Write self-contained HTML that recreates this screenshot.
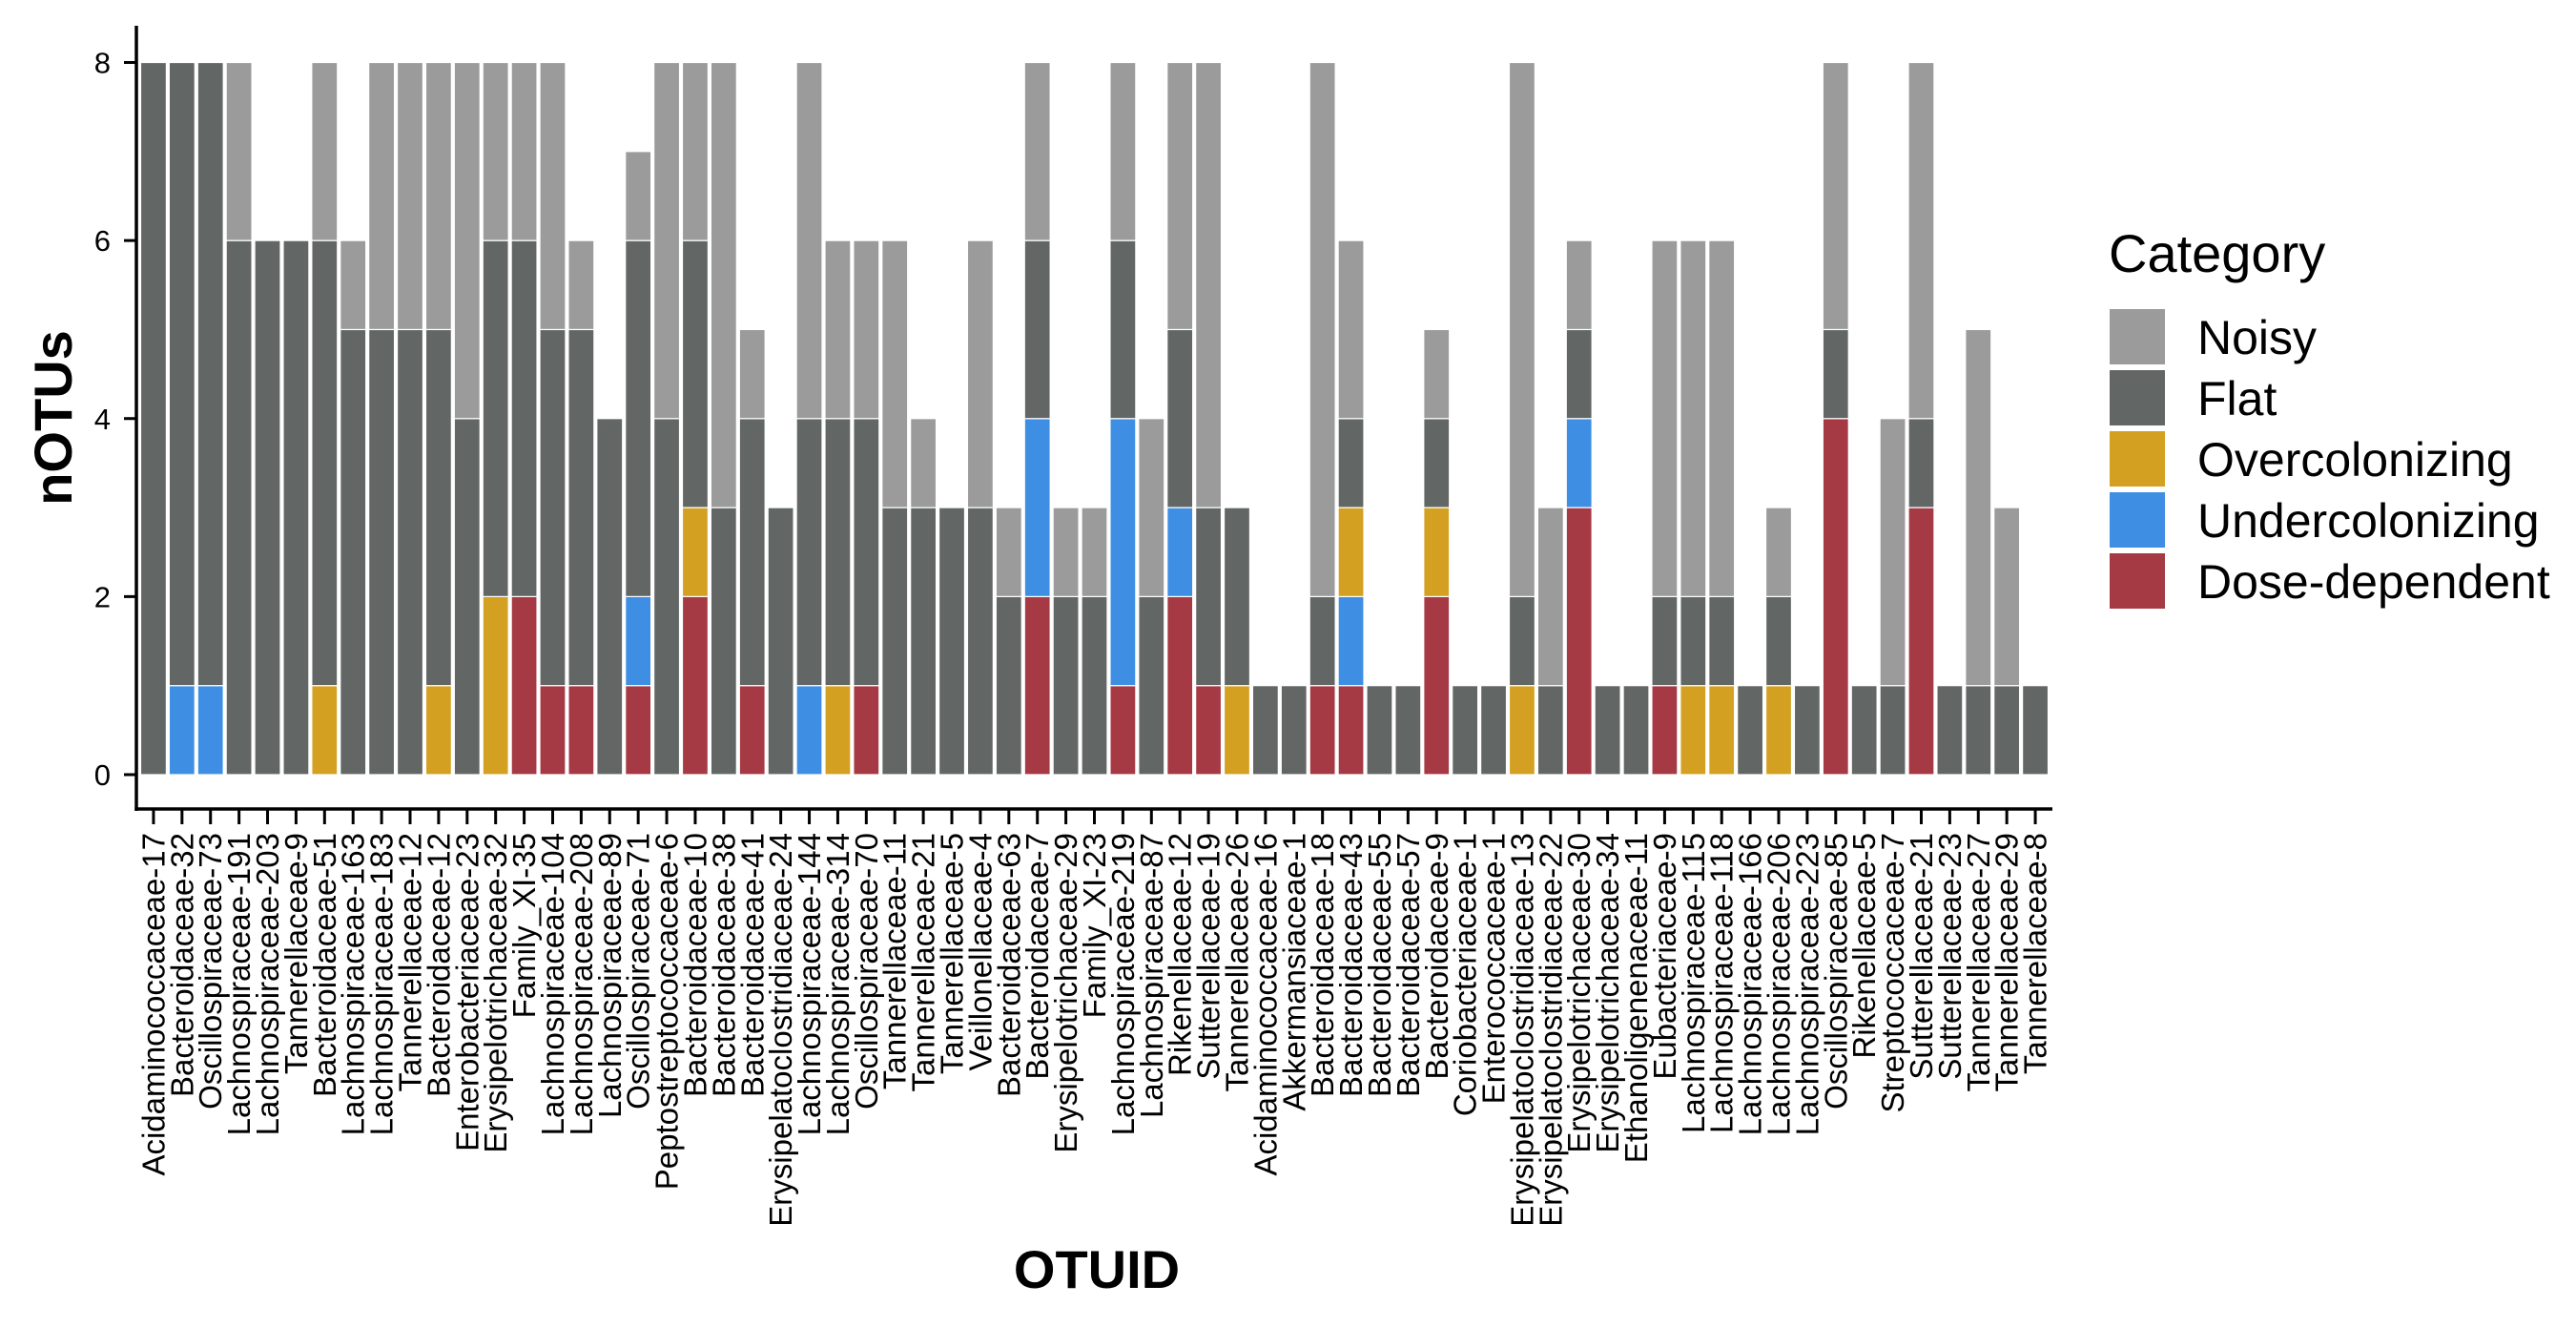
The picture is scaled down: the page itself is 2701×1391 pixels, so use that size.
<!DOCTYPE html>
<html><head><meta charset="utf-8"><style>
html,body{margin:0;padding:0;background:#fff;}
svg{display:block;font-family:"Liberation Sans",Arial,sans-serif;}
</style></head><body>
<svg id="chart" width="2701" height="1391" viewBox="0 0 2701 1391" xmlns="http://www.w3.org/2000/svg">
<g id="bars"></g>
<g id="axes"></g>
<g id="legend"></g>
</svg>
<script>
const categories = ["Acidaminococcaceae-17","Bacteroidaceae-32","Oscillospiraceae-73","Lachnospiraceae-191","Lachnospiraceae-203","Tannerellaceae-9","Bacteroidaceae-51","Lachnospiraceae-163","Lachnospiraceae-183","Tannerellaceae-12","Bacteroidaceae-12","Enterobacteriaceae-23","Erysipelotrichaceae-32","Family_XI-35","Lachnospiraceae-104","Lachnospiraceae-208","Lachnospiraceae-89","Oscillospiraceae-71","Peptostreptococcaceae-6","Bacteroidaceae-10","Bacteroidaceae-38","Bacteroidaceae-41","Erysipelatoclostridiaceae-24","Lachnospiraceae-144","Lachnospiraceae-314","Oscillospiraceae-70","Tannerellaceae-11","Tannerellaceae-21","Tannerellaceae-5","Veillonellaceae-4","Bacteroidaceae-63","Bacteroidaceae-7","Erysipelotrichaceae-29","Family_XI-23","Lachnospiraceae-219","Lachnospiraceae-87","Rikenellaceae-12","Sutterellaceae-19","Tannerellaceae-26","Acidaminococcaceae-16","Akkermansiaceae-1","Bacteroidaceae-18","Bacteroidaceae-43","Bacteroidaceae-55","Bacteroidaceae-57","Bacteroidaceae-9","Coriobacteriaceae-1","Enterococcaceae-1","Erysipelatoclostridiaceae-13","Erysipelatoclostridiaceae-22","Erysipelotrichaceae-30","Erysipelotrichaceae-34","Ethanoligenenaceae-11","Eubacteriaceae-9","Lachnospiraceae-115","Lachnospiraceae-118","Lachnospiraceae-166","Lachnospiraceae-206","Lachnospiraceae-223","Oscillospiraceae-85","Rikenellaceae-5","Streptococcaceae-7","Sutterellaceae-21","Sutterellaceae-23","Tannerellaceae-27","Tannerellaceae-29","Tannerellaceae-8"];
const doseDependent = [0,0,0,0,0,0,0,0,0,0,0,0,0,2,1,1,0,1,0,2,0,1,0,0,0,1,0,0,0,0,0,2,0,0,1,0,2,1,0,0,0,1,1,0,0,2,0,0,0,0,3,0,0,1,0,0,0,0,0,4,0,0,3,0,0,0,0];
const undercolonizing = [0,1,1,0,0,0,0,0,0,0,0,0,0,0,0,0,0,1,0,0,0,0,0,1,0,0,0,0,0,0,0,2,0,0,3,0,1,0,0,0,0,0,1,0,0,0,0,0,0,0,1,0,0,0,0,0,0,0,0,0,0,0,0,0,0,0,0];
const overcolonizing = [0,0,0,0,0,0,1,0,0,0,1,0,2,0,0,0,0,0,0,1,0,0,0,0,1,0,0,0,0,0,0,0,0,0,0,0,0,0,1,0,0,0,1,0,0,1,0,0,1,0,0,0,0,0,1,1,0,1,0,0,0,0,0,0,0,0,0];
const flat = [8,7,7,6,6,6,5,5,5,5,4,4,4,4,4,4,4,4,4,3,3,3,3,3,3,3,3,3,3,3,2,2,2,2,2,2,2,2,2,1,1,1,1,1,1,1,1,1,1,1,1,1,1,1,1,1,1,1,1,1,1,1,1,1,1,1,1];
const noisy = [0,0,0,2,0,0,2,1,3,3,3,4,2,2,3,1,0,1,4,2,5,1,0,4,2,2,3,1,0,3,1,2,1,1,2,2,3,5,0,0,0,6,2,0,0,1,0,0,6,2,1,0,0,4,4,4,0,1,0,3,0,3,4,0,4,2,0];
const yTicks = [0,2,4,6,8];
const seriesNames = ["Dose-dependent","Undercolonizing","Overcolonizing","Flat","Noisy"];
const legendOrder = ["Noisy","Flat","Overcolonizing","Undercolonizing","Dose-dependent"];

const NS="http://www.w3.org/2000/svg";
const colors={"Noisy":"#9b9b9b","Flat":"#626766","Overcolonizing":"#d4a021","Undercolonizing":"#3e8fe3","Dose-dependent":"#a53a44"};
const series={"Dose-dependent":doseDependent,"Undercolonizing":undercolonizing,"Overcolonizing":overcolonizing,"Flat":flat,"Noisy":noisy};
const X0=143, X1=2152, Y0=812, Y8=65.5;
const pitch=(X1-X0)/(categories.length-1+1.2);
function xScale(i){return X0+pitch*(0.6+i);}
function yScale(v){return Y0-(Y0-Y8)*v/8;}
function mk(tag,attrs,parent){const e=document.createElementNS(NS,tag);for(const k in attrs)e.setAttribute(k,attrs[k]);parent.appendChild(e);return e;}

const gb=document.getElementById('bars');
const bw=pitch*0.9;
categories.forEach((c,i)=>{
  let base=0;
  seriesNames.forEach(s=>{
    const v=series[s][i];
    if(v>0){
      const r=mk('rect',{x:xScale(i)-bw/2,y:yScale(base+v),width:bw,height:yScale(base)-yScale(base+v),fill:colors[s],stroke:'#ffffff','stroke-width':1.2},gb);
      
      
    }
    base+=v;
  });
});

const ga=document.getElementById('axes');
const yl=mk('line',{x1:X0,y1:27,x2:X0,y2:850,stroke:'#000','stroke-width':3.5},ga);


const xl=mk('line',{x1:X0-1.7,y1:848,x2:X1,y2:848,stroke:'#000','stroke-width':3.5},ga);


yTicks.forEach(t=>{
  const y=yScale(t);
  mk('line',{x1:X0-13,y1:y,x2:X0,y2:y,stroke:'#000','stroke-width':3},ga);
  const tx=mk('text',{x:116,y:y+11,'text-anchor':'end','font-size':31,fill:'#000'},ga);
  tx.textContent=t;
  
  
});
categories.forEach((c,i)=>{
  const x=xScale(i);
  mk('line',{x1:x,y1:848,x2:x,y2:864,stroke:'#000','stroke-width':3},ga);
  const tx=mk('text',{transform:`translate(${x+11.5},873) rotate(-90)`,'text-anchor':'end','font-size':33,fill:'#000'},ga);
  tx.textContent=c;
  
  
});
const yt=mk('text',{transform:'translate(75,438) rotate(-90)','text-anchor':'middle','font-size':56,'font-weight':'bold',fill:'#000'},ga);
yt.textContent='nOTUs';


const xt=mk('text',{x:1150,y:1350,'text-anchor':'middle','font-size':56,'font-weight':'bold',fill:'#000'},ga);
xt.textContent='OTUID';



const gl=document.getElementById('legend');
const lt=mk('text',{x:2211,y:285,'font-size':56,fill:'#000'},gl);
lt.textContent='Category';


legendOrder.forEach((s,k)=>{
  const y=324+k*64;
  const r=mk('rect',{x:2212,y:y,width:58,height:58,fill:colors[s]},gl);
  
  
  const t=mk('text',{x:2304,y:y+47,'font-size':50,fill:'#000'},gl);
  t.textContent=s;
  
  
});
</script>
</body></html>
